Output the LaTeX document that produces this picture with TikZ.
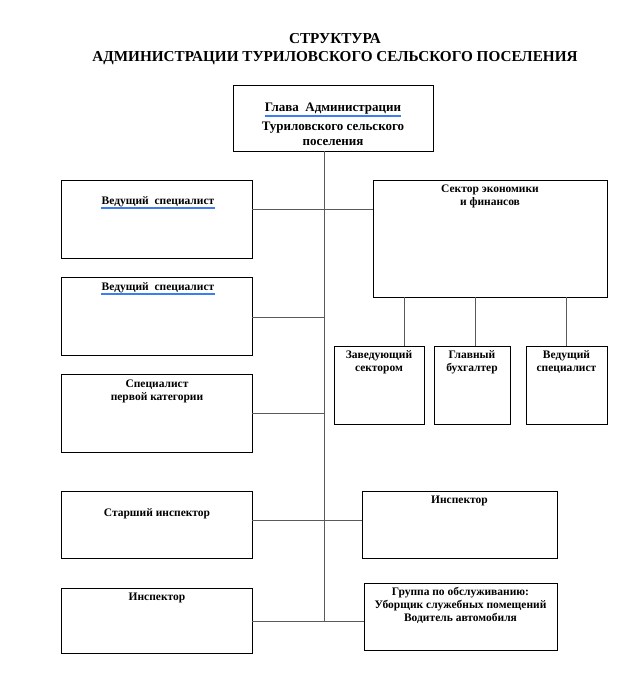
\documentclass[tikz,border=0pt]{standalone}
\usepackage{fontspec}
\setmainfont{Liberation Serif}
\definecolor{ulblue}{RGB}{60,125,245}
\definecolor{conn}{RGB}{90,90,90}
\begin{document}
\begin{tikzpicture}[x=1pt,y=-1pt,
  box/.style={draw=black,line width=0.9pt,rectangle,inner sep=0pt},
  txt/.style={font=\fontsize{11.5}{13}\selectfont\bfseries,align=center,inner sep=0pt},
  htxt/.style={font=\fontsize{13}{15.5}\selectfont\bfseries,align=center,inner sep=0pt},
  ttl/.style={font=\fontsize{15.2}{18}\selectfont\bfseries,align=center,inner sep=0pt},
  ul/.style={draw=ulblue,line width=1.6pt},
  conn/.style={draw=conn,line width=1pt}]
\useasboundingbox (0,0) rectangle (640,680);
\fill[white] (0,0) rectangle (640,680);

\node[ttl] (title) at (335,49) {СТРУКТУРА\\АДМИНИСТРАЦИИ ТУРИЛОВСКОГО СЕЛЬСКОГО ПОСЕЛЕНИЯ};

% boxes
\node[box,minimum width=200pt,minimum height=66pt] (headbox) at (333,118) {};
\node[box,minimum width=191pt,minimum height=78pt] (l1) at (156.5,219) {};
\node[box,minimum width=191pt,minimum height=78pt] (l2) at (156.5,316) {};
\node[box,minimum width=191pt,minimum height=78pt] (l3) at (156.5,413) {};
\node[box,minimum width=191pt,minimum height=67pt] (l4) at (156.5,524.5) {};
\node[box,minimum width=191pt,minimum height=65pt] (l5) at (156.5,620.5) {};
\node[box,minimum width=234pt,minimum height=117pt] (sec) at (490,238.5) {};
\node[box,minimum width=90pt,minimum height=78pt] (s1) at (379,385) {};
\node[box,minimum width=76pt,minimum height=78pt] (s2) at (472,385) {};
\node[box,minimum width=81pt,minimum height=78pt] (s3) at (566.5,385) {};
\node[box,minimum width=195pt,minimum height=67pt] (r1) at (459.5,524.5) {};
\node[box,minimum width=193pt,minimum height=67pt] (r2) at (460.5,616.5) {};

% texts
\node[htxt] (headt1) at (333,109) {Глава\ \ Администрации};
\draw[ul] ([yshift=-1.2pt]headt1.south west) -- ([yshift=-1.2pt]headt1.south east);
\node[htxt] (headt2) at (333,134) {Туриловского сельского\\поселения};
\node[txt] (l1t) at (158,201.5) {Ведущий\ \ специалист};
\draw[ul] ([yshift=-1.2pt]l1t.south west) -- ([yshift=-1.2pt]l1t.south east);
\node[txt] (l2t) at (158,287.5) {Ведущий\ \ специалист};
\draw[ul] ([yshift=-1.2pt]l2t.south west) -- ([yshift=-1.2pt]l2t.south east);
\node[txt] (l3t) at (157,391.5) {Специалист\\первой категории};
\node[txt] (l4t) at (157,514) {Старший инспектор};
\node[txt] (l5t) at (157,598) {Инспектор};
\node[txt] (sect) at (490,196.5) {Сектор экономики\\и финансов};
\node[txt] (s1t) at (379,362.5) {Заведующий\\сектором};
\node[txt] (s2t) at (472,362.5) {Главный\\бухгалтер};
\node[txt] (s3t) at (566.5,362.5) {Ведущий\\специалист};
\node[txt] (r1t) at (459.5,501) {Инспектор};
\node[txt] (r2t) at (460.5,605.5) {Группа по обслуживанию:\\Уборщик служебных помещений\\Водитель автомобиля};

% connectors
\coordinate (tend) at (324,621);
\draw[conn] (headbox.south -| tend) -- (tend);
\draw[conn] (l1.east |- 0,209) -- (sec.west |- 0,209);
\draw[conn] (l2.east |- 0,317) -- (tend |- 0,317);
\draw[conn] (l3.east |- 0,413) -- (tend |- 0,413);
\draw[conn] (l4.east |- 0,520) -- (r1.west |- 0,520);
\draw[conn] (l5.east |- 0,621) -- (r2.west |- 0,621);
\draw[conn] (sec.south -| 404,0) -- (s1.north -| 404,0);
\draw[conn] (sec.south -| 475,0) -- (s2.north -| 475,0);
\draw[conn] (sec.south -| 566,0) -- (s3.north -| 566,0);
\end{tikzpicture}
\end{document}
